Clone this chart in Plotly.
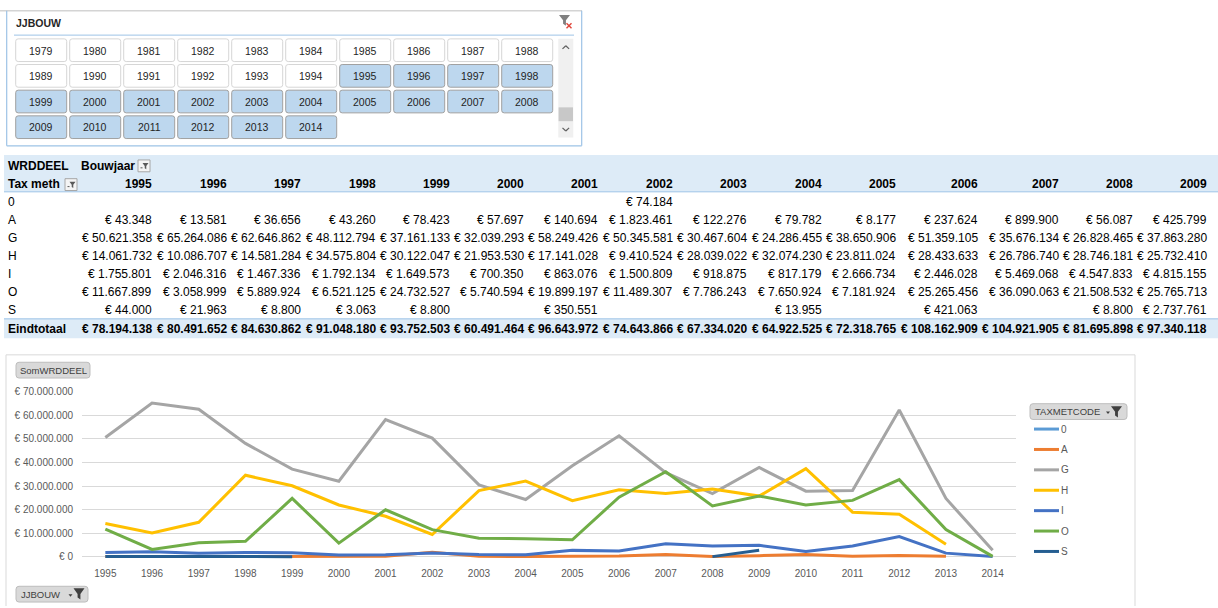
import plotly.graph_objects as go

W, H = 1218, 608

# ---------------- data ----------------
years = [str(y) for y in range(1995, 2015)]
codes = ["0", "A", "G", "H", "I", "O", "S"]

vals_0 = [None, None, None, None, None, None, None, 74184, None, None,
          None, None, None, None, None, None, None, None, None, None]
vals_A = [43348, 13581, 36656, 43260, 78423, 57697, 140694, 1823461, 122276, 79782,
          8177, 237624, 899900, 56087, 425799, 950000, 200000, 450000, 150000, None]
vals_G = [50621358, 65264086, 62646862, 48112794, 37161133, 32039293, 58249426, 50345581, 30467604, 24286455,
          38650906, 51359105, 35676134, 26828465, 37863280, 27800000, 28100000, 62300000, 24700000, 2700000]
vals_H = [14061732, 10086707, 14581284, 34575804, 30122047, 21953530, 17141028, 9410524, 28039022, 32074230,
          23811024, 28433633, 26786740, 28746181, 25732410, 37400000, 18900000, 18000000, 5300000, None]
vals_I = [1755801, 2046316, 1467336, 1792134, 1649573, 700350, 863076, 1500809, 918875, 817179,
          2666734, 2446028, 5469068, 4547833, 4815155, 2200000, 4500000, 8500000, 1500000, 100000]
vals_O = [11667899, 3058999, 5889924, 6521125, 24732527, 5740594, 19899197, 11489307, 7786243, 7650924,
          7181924, 25265456, 36090063, 21508532, 25765713, 21900000, 23900000, 32700000, 11500000, 100000]
vals_S = [44000, 21963, 8800, 3063, 8800, None, 350551, None, None, 13955,
          None, 421063, None, 8800, 2737761, None, None, None, None, None]

totals_shown = [78194138, 80491652, 84630862, 91048180, 93752503, 60491464, 96643972, 74643866,
                67334020, 64922525, 72318765, 108162909, 104921905, 81695898, 97340118]

slicer_years = [str(y) for y in range(1979, 2015)]
first_selected_year = 1995

y_tick_values = [0, 10000000, 20000000, 30000000, 40000000, 50000000, 60000000, 70000000]
y_tick_labels = ["€ 0", "€ 10.000.000", "€ 20.000.000", "€ 30.000.000", "€ 40.000.000",
                 "€ 50.000.000", "€ 60.000.000", "€ 70.000.000"]

series = [vals_0, vals_A, vals_G, vals_H, vals_I, vals_O, vals_S]
colors = ["#5B9BD5", "#ED7D31", "#A5A5A5", "#FFC000", "#4472C4", "#70AD47", "#255E91"]

# ---------------- helpers ----------------
FONT = "Liberation Sans, Arial, sans-serif"
shapes = []
anns = []


def fx(x):
    return x / W


def fy(y):
    return 1 - y / H


def rect(x0, y0, x1, y1, fill="rgba(0,0,0,0)", line="rgba(0,0,0,0)", lw=1):
    shapes.append(dict(type="rect", xref="paper", yref="paper",
                       x0=fx(x0), x1=fx(x1), y0=fy(y1), y1=fy(y0),
                       fillcolor=fill, line=dict(color=line, width=lw), layer="above"))


def hline(x0, x1, y, color, lw=1):
    shapes.append(dict(type="line", xref="paper", yref="paper",
                       x0=fx(x0), x1=fx(x1), y0=fy(y), y1=fy(y),
                       line=dict(color=color, width=lw), layer="above"))


def seg(x0, y0, x1, y1, color, lw=1):
    shapes.append(dict(type="line", xref="paper", yref="paper",
                       x0=fx(x0), x1=fx(x1), y0=fy(y0), y1=fy(y1),
                       line=dict(color=color, width=lw), layer="above"))


def path(points, fill, line="rgba(0,0,0,0)", lw=0):
    d = "M " + " L ".join(f"{fx(x):.5f},{fy(y):.5f}" for x, y in points) + " Z"
    shapes.append(dict(type="path", xref="paper", yref="paper", path=d,
                       fillcolor=fill, line=dict(color=line, width=lw), layer="above"))


def rrect(x0, y0, x1, y1, r, fill, line, lw=1):
    def p(x, y):
        return f"{fx(x):.5f},{fy(y):.5f}"
    d = (f"M {p(x0 + r, y0)} L {p(x1 - r, y0)} Q {p(x1, y0)} {p(x1, y0 + r)} "
         f"L {p(x1, y1 - r)} Q {p(x1, y1)} {p(x1 - r, y1)} L {p(x0 + r, y1)} "
         f"Q {p(x0, y1)} {p(x0, y1 - r)} L {p(x0, y0 + r)} Q {p(x0, y0)} {p(x0 + r, y0)} Z")
    shapes.append(dict(type="path", xref="paper", yref="paper", path=d,
                       fillcolor=fill, line=dict(color=line, width=lw), layer="above"))


def text(x, y, s, size, color="#000000", bold=False, anchor="left"):
    anns.append(dict(xref="paper", yref="paper", x=fx(x), y=fy(y),
                     text=f"<b>{s}</b>" if bold else s, showarrow=False,
                     xanchor=anchor, yanchor="middle", borderpad=0,
                     font=dict(size=size, color=color, family=FONT)))


def funnel(cx, top, w, h, color):
    path([(cx - w / 2, top), (cx + w / 2, top), (cx + w * 0.13, top + h * 0.5),
          (cx + w * 0.13, top + h), (cx - w * 0.13, top + h * 0.82), (cx - w * 0.13, top + h * 0.5)], color)


def eur(v):
    return "€ " + f"{int(round(v)):,}".replace(",", ".")


# ---------------- slicer ----------------
hline(0, 582, 4.7, "#D4D4D4", 1.5)
seg(6.7, 4.7, 6.7, 141.7, "#9DC3E6", 1.2)
seg(581.7, 4.7, 581.7, 141.7, "#9DC3E6", 1.2)
hline(6.7, 581.7, 141.7, "#9DC3E6", 1.2)
text(15, 17.5, "JJBOUW", 10.5, "#262626", bold=True)
hline(14, 574, 29.5, "#9DC3E6", 1)
# clear filter icon
funnel(564.5, 9, 11, 11, "#808080")
seg(566.5, 17.5, 571.5, 22.5, "#E0453A", 1.4)
seg(571.5, 17.5, 566.5, 22.5, "#E0453A", 1.4)

for i, yr in enumerate(slicer_years):
    col, row = i % 10, i // 10
    x0 = 15.7 + col * 54
    y0 = 33.3 + row * 26
    sel = int(yr) >= first_selected_year
    rrect(x0, y0, x0 + 51, y0 + 23, 2.5,
          "#BDD7EE" if sel else "#FFFFFF",
          "#A0A0A0" if sel else "#D6D6D6", 1)
    text(x0 + 25.5, y0 + 11.8, yr, 10.5, "#1F1F1F", anchor="center")

# scrollbar
rect(558.3, 33.3, 573.3, 133.3, fill="#F0F0F0")
rect(558.6, 102.7, 573, 116.7, fill="#C8C8C8")
seg(562.5, 43.5, 565.8, 40.3, "#606060", 1.2)
seg(565.8, 40.3, 569.1, 43.5, "#606060", 1.2)
seg(562.5, 123.5, 565.8, 126.7, "#606060", 1.2)
seg(565.8, 126.7, 569.1, 123.5, "#606060", 1.2)

# ---------------- pivot table ----------------
TS = 12
rect(4, 151, W, 188, fill="#DDEBF7")
hline(4, W, 188.3, "#9BC2E6", 1)
rect(4, 317, W, 336.7, fill="#DDEBF7")
hline(4, W, 317, "#9BC2E6", 1)

text(6.5, 161.7, "WRDDEEL", TS, bold=True)
text(136, 161.7, "Bouwjaar", TS, bold=True, anchor="right")
text(6.5, 180.5, "Tax meth", TS, bold=True)
# filter buttons in the header
for bx, by in [(138, 156), (65, 175)]:
    rect(bx, by, bx + 12, by + 12, fill="#F4F4F4", line="#A6A6A6", lw=1)
    funnel(bx + 7.5, by + 3, 6, 6.5, "#595959")
    seg(bx + 2.5, by + 8, bx + 4.5, by + 8, "#595959", 1)

col_right = [153, 227.5, 302, 376.5, 451, 525, 599, 673.5, 748, 823, 897, 979, 1060, 1134, 1208]
row_y = [198.3, 216.7, 235.0, 253.3, 271.7, 290.0, 308.3]
total_y = 327.0
table_years = years[:len(col_right)]

for j, yr in enumerate(table_years):
    text(col_right[j], 180.5, yr, TS, bold=True, anchor="right")
for i, code in enumerate(codes):
    text(6.5, row_y[i], code, TS)
    for j in range(len(col_right)):
        v = series[i][j]
        if v is not None:
            text(col_right[j], row_y[i], eur(v), TS, anchor="right")
text(6.5, total_y, "Eindtotaal", TS, bold=True)
for j in range(len(col_right)):
    text(col_right[j], total_y, eur(totals_shown[j]), TS, bold=True, anchor="right")

# ---------------- chart frame and buttons ----------------
hline(6, 1135, 353.5, "#D9D9D9", 1)
seg(6, 353.5, 6, 608, "#D9D9D9", 1)
seg(1135, 353.5, 1135, 608, "#D9D9D9", 1)

rrect(16, 361, 90, 377, 3, "#D9D9D9", "#BDBDBD", 1)
text(53, 369.2, "SomWRDDEEL", 9.5, "#404040", anchor="center")

rrect(1030, 403, 1127, 419, 3, "#D9D9D9", "#BDBDBD", 1)
text(1034, 411.2, "TAXMETCODE", 9.5, "#404040")
funnel(1116.5, 405.5, 11, 11.5, "#404040")
path([(1106, 411), (1110, 411), (1108, 413.5)], "#404040")

rrect(16, 588, 88, 604, 3, "#D9D9D9", "#BDBDBD", 1)
text(20, 596.2, "JJBOUW", 9.5, "#404040")
funnel(79, 590, 11, 11.5, "#404040")
path([(68.5, 596), (72.5, 596), (70.5, 598.5)], "#404040")

# custom legend
for i, code in enumerate(codes):
    ly = 428.7 + 20.67 * i
    hline(1034, 1059, ly, colors[i], 3)
    text(1060, ly, code, 10, "#595959")

# ---------------- line chart ----------------
fig = go.Figure()
for i, code in enumerate(codes):
    fig.add_trace(go.Scatter(x=years, y=series[i], mode="lines", name=code,
                             line=dict(color=colors[i], width=3), connectgaps=False,
                             showlegend=False, hoverinfo="skip"))

px_per_unit = (558 - 391) / 70000000.0
y_low = -1500000
y_bottom_px = 558 + (-y_low) * px_per_unit

fig.update_layout(
    width=W, height=H, margin=dict(l=0, r=0, t=0, b=0),
    paper_bgcolor="white", plot_bgcolor="white",
    font=dict(family=FONT, size=10, color="#595959"),
    shapes=shapes, annotations=anns,
    xaxis=dict(domain=[fx(82), fx(1016)], type="category", range=[-0.5, 19.5],
               showgrid=False, showline=False, zeroline=False, ticks="",
               tickfont=dict(size=10, color="#595959"), ticklabelstandoff=6,
               fixedrange=True),
    yaxis=dict(domain=[fy(y_bottom_px), fy(391)], range=[y_low, 70000000],
               tickvals=y_tick_values, ticktext=y_tick_labels,
               showgrid=True, gridcolor="#D9D9D9", gridwidth=1,
               zeroline=True, zerolinecolor="#D9D9D9", zerolinewidth=1,
               showline=False, ticks="", ticklabelstandoff=8,
               tickfont=dict(size=10, color="#595959"), fixedrange=True),
)

fig.write_html("out.html", config={"displayModeBar": False},
               post_script="document.body.style.margin='0';document.body.style.overflow='hidden';")
